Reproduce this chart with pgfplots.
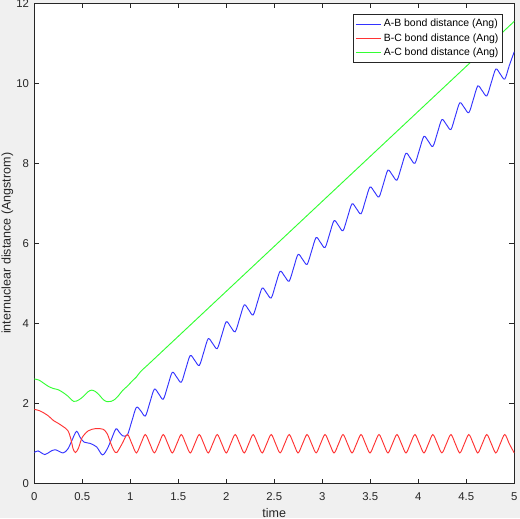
\documentclass[border=0pt]{standalone}
\usepackage{fontspec}
\setmainfont{Liberation Sans}
\usepackage{pgfplots}
\usepackage{pgfplotstable}
\pgfplotsset{compat=1.18}
\definecolor{figbg}{rgb}{0.94,0.94,0.94}
\definecolor{axgray}{rgb}{0.15,0.15,0.15}
\definecolor{lblue}{rgb}{0.2,0.2,1}
\definecolor{lred}{rgb}{1,0.2,0.2}
\definecolor{lgreen}{rgb}{0.2,1,0.2}

\pgfplotstableread{
t r
0 1.85
0.05 1.82
0.10 1.76
0.15 1.68
0.20 1.57
0.25 1.50
0.30 1.42
0.35 1.32
0.38 1.12
0.405 0.86
0.43 0.77
0.46 0.88
0.50 1.15
0.56 1.31
0.60 1.35
0.64 1.37
0.68 1.37
0.72 1.35
0.76 1.24
0.80 0.98
0.83 0.82
0.86 0.77
0.915 0.99
0.970 1.22
1.017 0.99
1.064 0.76
1.110 0.99
1.157 1.22
1.204 0.99
1.251 0.76
1.298 0.99
1.344 1.22
1.391 0.99
1.438 0.76
1.485 0.99
1.532 1.22
1.578 0.99
1.625 0.76
1.672 0.99
1.719 1.22
1.766 0.99
1.812 0.76
1.859 0.99
1.906 1.22
1.953 0.99
2.000 0.76
2.046 0.99
2.093 1.22
2.140 0.99
2.187 0.76
2.234 0.99
2.280 1.22
2.327 0.99
2.374 0.76
2.421 0.99
2.468 1.22
2.514 0.99
2.561 0.76
2.608 0.99
2.655 1.22
2.702 0.99
2.748 0.76
2.795 0.99
2.842 1.22
2.889 0.99
2.936 0.76
2.982 0.99
3.029 1.22
3.076 0.99
3.123 0.76
3.170 0.99
3.216 1.22
3.263 0.99
3.310 0.76
3.357 0.99
3.404 1.22
3.450 0.99
3.497 0.76
3.544 0.99
3.591 1.22
3.638 0.99
3.684 0.76
3.731 0.99
3.778 1.22
3.825 0.99
3.872 0.76
3.918 0.99
3.965 1.22
4.012 0.99
4.059 0.76
4.106 0.99
4.152 1.22
4.199 0.99
4.246 0.76
4.293 0.99
4.340 1.22
4.386 0.99
4.433 0.76
4.480 0.99
4.527 1.22
4.574 0.99
4.620 0.76
4.667 0.99
4.714 1.22
4.761 0.99
4.808 0.76
4.854 0.99
4.901 1.22
4.948 0.99
5.000 0.76
}\redtab

\pgfplotstableread{
t b
0 0.77
0.04 0.81
0.11 0.72
0.17 0.80
0.22 0.84
0.30 0.76
0.35 0.86
0.39 1.06
0.44 1.30
0.48 1.14
0.52 1.03
0.58 1.00
0.65 0.91
0.71 0.71
0.76 0.86
0.80 1.08
0.85 1.36
0.885 1.28
0.92 1.19
0.970 1.21
1.017 1.56
1.064 1.90
1.110 1.81
1.157 1.683
1.204 2.019
1.251 2.355
1.298 2.231
1.344 2.104
1.391 2.440
1.438 2.776
1.485 2.651
1.532 2.527
1.578 2.861
1.625 3.196
1.672 3.072
1.719 2.948
1.766 3.284
1.812 3.617
1.859 3.493
1.906 3.369
1.953 3.704
2.000 4.040
2.046 3.914
2.093 3.789
2.140 4.125
2.187 4.461
2.234 4.337
2.280 4.210
2.327 4.546
2.374 4.882
2.421 4.757
2.468 4.633
2.514 4.967
2.561 5.302
2.608 5.178
2.655 5.054
2.702 5.390
2.748 5.723
2.795 5.599
2.842 5.475
2.889 5.810
2.936 6.146
2.982 6.020
3.029 5.895
3.076 6.231
3.123 6.567
3.170 6.443
3.216 6.316
3.263 6.652
3.310 6.988
3.357 6.863
3.404 6.739
3.450 7.073
3.497 7.408
3.544 7.284
3.591 7.160
3.638 7.496
3.684 7.829
3.731 7.705
3.778 7.581
3.825 7.916
3.872 8.252
3.918 8.126
3.965 8.001
4.012 8.337
4.059 8.673
4.106 8.549
4.152 8.422
4.199 8.758
4.246 9.094
4.293 8.969
4.340 8.845
4.386 9.179
4.433 9.514
4.480 9.390
4.527 9.266
4.574 9.602
4.620 9.935
4.667 9.811
4.714 9.687
4.761 10.022
4.808 10.358
4.854 10.232
4.901 10.107
4.948 10.443
5.000 10.790
}\bluetab

\pgfplotstableread{
t g
0 2.61
0.05 2.58
0.10 2.50
0.15 2.42
0.20 2.37
0.25 2.34
0.30 2.27
0.35 2.18
0.41 2.05
0.46 2.08
0.51 2.17
0.56 2.29
0.60 2.33
0.64 2.29
0.68 2.20
0.72 2.09
0.76 2.04
0.80 2.05
0.84 2.10
0.88 2.20
0.92 2.32
0.97 2.43
1.017 2.55
1.064 2.66
1.110 2.80
1.2 3.00
1.5 3.675
2.0 4.80
2.5 5.925
3.0 7.05
3.5 8.175
4.0 9.30
4.5 10.425
5.0 11.55
}\greentab

\begin{document}
\begin{tikzpicture}
\fill[figbg] (-25.7pt,-26.25pt) rectangle (364.3pt,362.5pt);
\begin{axis}[
  at={(0,0)}, anchor=south west,
  scale only axis, width=360pt, height=360pt,
  xmin=0, xmax=5, ymin=0, ymax=12,
  xtick={0,0.5,...,5}, ytick={0,2,...,12},
  axis background/.style={fill=white},
  axis line style={axgray, line width=0.5pt},
  tick style={axgray, line width=0.5pt},
  tick align=inside, major tick length=3.6pt,
  /pgf/number format/assume math mode=true,
  ticklabel style={font=\fontsize{8.5}{10}\selectfont, text=axgray},
  x tick label style={yshift=-3.5pt},
  y tick label style={xshift=-0.5pt},
  xlabel={time},
  ylabel={internuclear distance (Angstrom)},
  label style={font=\fontsize{9.4}{11}\selectfont, text=axgray, inner sep=0pt},
  xlabel style={at={(axis description cs:0.5,-0.062)}, anchor=center},
  ylabel style={at={(axis description cs:-0.0558,0.5)}, anchor=center},
  legend style={at={(1,1)}, xshift=-8.7pt, yshift=-8.25pt, anchor=north east,
    draw=axgray, line width=0.4pt, fill=white,
    font=\fontsize{7.85}{9}\selectfont, inner xsep=1.5pt, inner ysep=1.9pt,
    nodes={inner sep=1.5pt, text height=5.9pt, text depth=1.7pt}, row sep=0pt},
  legend cell align=left,
  legend image code/.code={\draw[#1] (0pt,0pt) -- (19pt,0pt);},
]
\addplot[lblue, line width=0.7pt, smooth] table[x=t, y=b] {\bluetab};
\addlegendentry{A-B bond distance (Ang)}
\addplot[lred, line width=0.7pt, smooth] table[x=t, y=r] {\redtab};
\addlegendentry{B-C bond distance (Ang)}
\addplot[lgreen, line width=0.7pt, smooth] table[x=t, y=g] {\greentab};
\addlegendentry{A-C bond distance (Ang)}
\end{axis}
\pgfresetboundingbox
\path[use as bounding box] (-25.7pt,-26.25pt) rectangle (364.3pt,362.5pt);
\end{tikzpicture}
\end{document}
